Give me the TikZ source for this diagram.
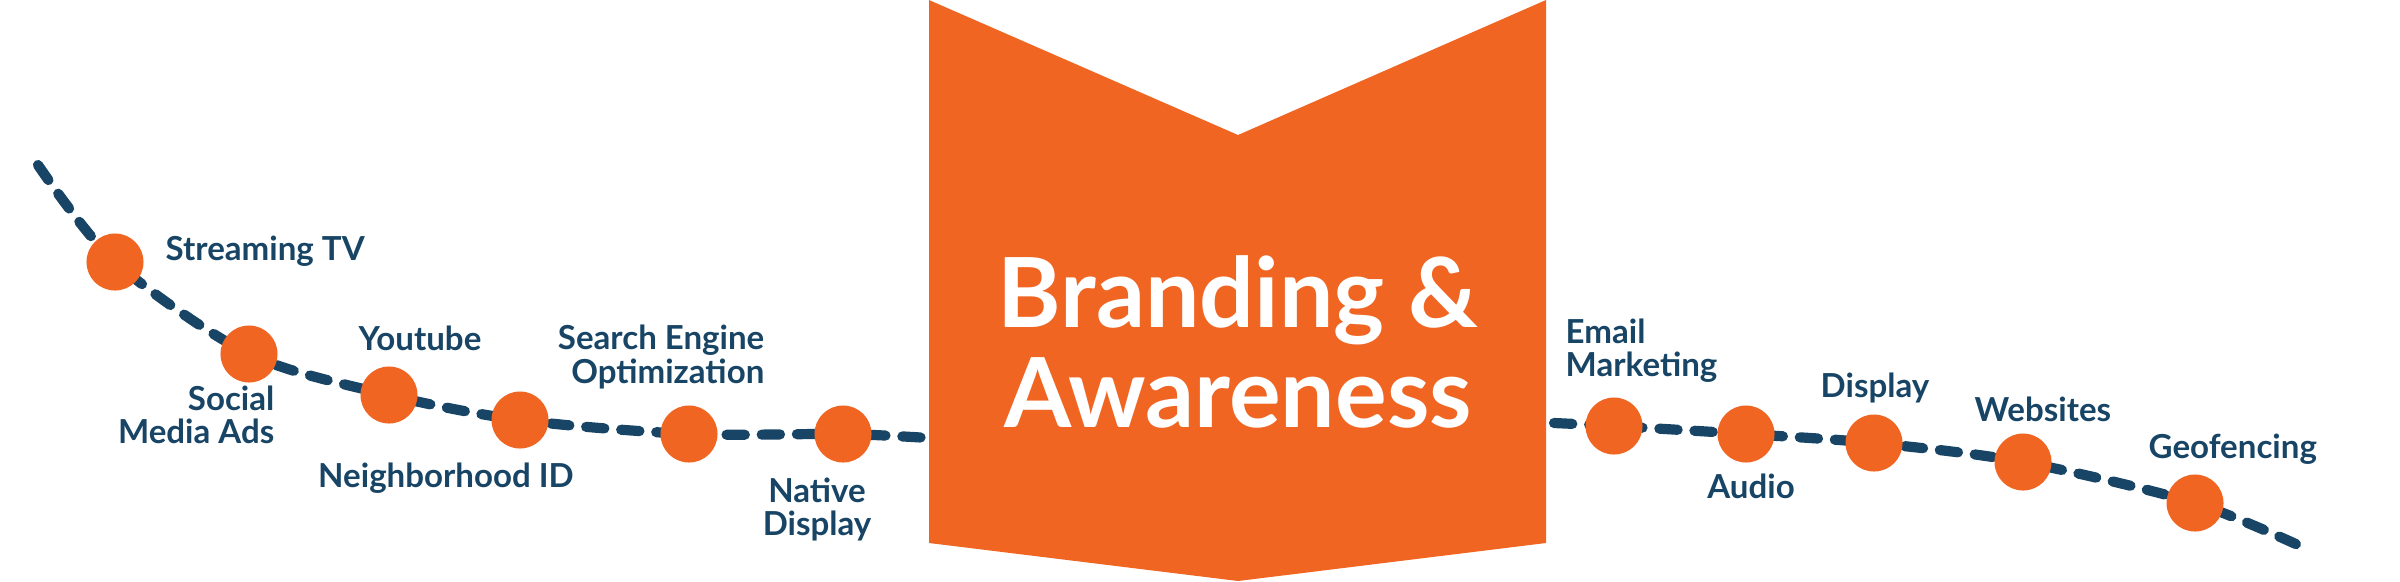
\documentclass[tikz,border=0pt]{standalone}
\usepackage{fontspec}
\setmainfont{Lato}
\usepackage{tikz}
\usetikzlibrary{backgrounds}

\definecolor{brandorange}{RGB}{241,101,35}
\definecolor{pathblue}{RGB}{24,69,101}

\tikzset{
    stopdot/.style={circle, fill=brandorange, minimum size=0.57cm, inner sep=0pt},
    lbl/.style={text=pathblue, font=\bfseries\fontsize{9.4}{9.4}\selectfont, inner sep=0pt},
    route/.style={draw=pathblue, line width=2.9pt, line cap=round, dash pattern=on 5.2pt off 4.8pt}
}

\begin{document}
\begin{tikzpicture}[x=0.01cm, y=-0.01cm]
        \useasboundingbox (0, 0) rectangle (2400, 581);
        % banner
        \fill[brandorange] (929, 0) -- (1238, 135) -- (1546, 0) -- (1546, 543) -- (1238, 581) -- (929, 543) -- cycle;
        \node[align=center, text=white, font=\bfseries\fontsize{27.5}{28.4}\selectfont] (title) at (1238, 342) {Branding \&\\Awareness};
        % left stops
        \coordinate (lstart) at (38, 165);
        \coordinate (lend) at (929, 438);
        \node[stopdot] (tv) at (115, 262) {};
        \node[stopdot] (social) at (249, 354) {};
        \node[stopdot] (yt) at (389, 395) {};
        \node[stopdot] (hood) at (520, 420) {};
        \node[stopdot] (seo) at (689, 434) {};
        \node[stopdot] (native) at (843, 434) {};
        % right stops
        \coordinate (rstart) at (1554, 423);
        \coordinate (rend) at (2311, 551);
        \node[stopdot] (email) at (1614, 426) {};
        \node[stopdot] (audio) at (1746, 434) {};
        \node[stopdot] (disp) at (1874, 443) {};
        \node[stopdot] (web) at (2023, 462) {};
        \node[stopdot] (geo) at (2195, 503) {};
        \begin{pgfonlayer}{background}
            \draw[route] plot[smooth] coordinates {(lstart) (tv) (social) (yt) (hood) (seo) (native) (lend)};
            \draw[route] plot[smooth] coordinates {(rstart) (email) (audio) (disp) (web) (geo) (rend)};
        \end{pgfonlayer}
        % labels
        \node[lbl, anchor=west] (tvlbl) at (165, 251) {Streaming TV};
        \node[lbl, anchor=east, align=right] (sociallbl) at (275, 415) {Social\\Media Ads};
        \node[lbl] (ytlbl) at (420, 338) {Youtube};
        \node[lbl] (hoodlbl) at (446, 478) {Neighborhood ID};
        \node[lbl, anchor=east, align=right] (seolbl) at (765, 357) {Search Engine\\Optimization};
        \node[lbl, anchor=east, align=center] (nativelbl) at (872, 509) {Native\\Display};
        \node[lbl, anchor=west, align=left] (emaillbl) at (1565, 351) {Email\\Marketing};
        \node[lbl] (audiolbl) at (1751, 486) {Audio};
        \node[lbl, anchor=west] (displbl) at (1820, 388) {Display};
        \node[lbl, anchor=west] (weblbl) at (1974, 409) {Websites};
        \node[lbl, anchor=west] (geolbl) at (2148, 449) {Geofencing};
    \end{tikzpicture}
\end{document}
